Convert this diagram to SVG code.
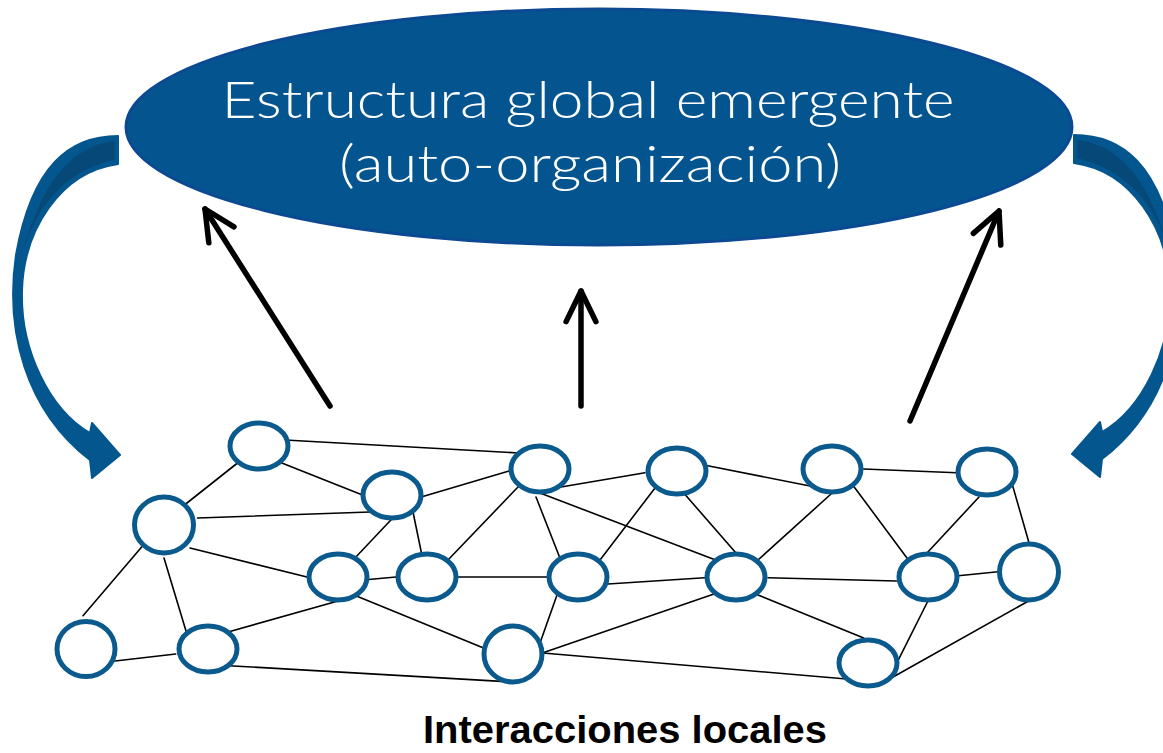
<svg xmlns="http://www.w3.org/2000/svg" xmlns:xlink="http://www.w3.org/1999/xlink" width="1163" height="753" viewBox="0 0 1163 753">
  <style>
    .curl { fill: #03568e; stroke: #03568e; stroke-width: 2; stroke-linejoin: round; }
    .face { fill: #064877; }
    .up { fill: none; stroke: #000; stroke-width: 5.5; stroke-linecap: round; }
    .chev { fill: none; stroke: #000; stroke-width: 5.5; stroke-linecap: round; stroke-linejoin: round; }
    .edge { stroke: #000; stroke-width: 1.6; stroke-linecap: round; }
    .node { fill: #fff; stroke: #0b5a8e; stroke-width: 5; }
    .title { font-family: Lato, "Open Sans", "Liberation Sans", sans-serif; font-weight: 300; font-size: 51px; fill: #fff; }
    .label { font-family: "Liberation Sans", Arial, sans-serif; font-weight: bold; font-size: 38px; fill: #000; }
  </style>
  <defs>
    <marker id="chev" markerUnits="userSpaceOnUse" orient="auto" markerWidth="50" markerHeight="50" refX="40" refY="25" viewBox="0 0 50 50" overflow="visible">
      <path class="chev" d="M 9.4,10.1 L 40,25 L 9.4,39.9"/>
    </marker>
    <g id="curl">
      <path class="curl" d="M 118,136 C 70,136 32,165 16,255 C 5,330 25,410 90,460 L 92,478 L 120,455 L 92,423 L 90,433 C 50,410 20,350 22,290 C 24,230 60,172 118,164 Z"/>
      <path class="face" d="M 115,141 C 80,145 45,170 24,250 C 35,210 62,172 115,159 Z"/>
    </g>
  </defs>

  <g id="feedback-arrows">
    <use xlink:href="#curl" href="#curl"/>
    <use xlink:href="#curl" href="#curl" transform="translate(1192,-1) scale(-1,1)"/>
  </g>

  <g id="global-structure">
    <ellipse cx="599" cy="127" rx="473" ry="118" fill="#04558f" stroke="#0b4a93" stroke-width="3"/>
    <text class="title" x="588" y="118" text-anchor="middle" textLength="733" lengthAdjust="spacingAndGlyphs">Estructura global emergente</text>
    <text class="title" x="590" y="182" text-anchor="middle" textLength="502" lengthAdjust="spacingAndGlyphs">(auto-organización)</text>
  </g>

  <g id="emergence-arrows">
    <line class="up" x1="330" y1="406" x2="205" y2="209" marker-end="url(#chev)"/>
    <line class="up" x1="581" y1="406" x2="581" y2="291" marker-end="url(#chev)"/>
    <line class="up" x1="910" y1="421" x2="999" y2="211" marker-end="url(#chev)"/>
  </g>

  <g id="connectors">
    <line class="edge" x1="285" y1="440" x2="518.6" y2="453"/>
    <line class="edge" x1="237.5" y1="463" x2="185.7" y2="504"/>
    <line class="edge" x1="281.8" y1="463" x2="362.5" y2="495"/>
    <line class="edge" x1="197.5" y1="518" x2="370" y2="512"/>
    <line class="edge" x1="422" y1="496.7" x2="509" y2="471"/>
    <line class="edge" x1="391.8" y1="519" x2="354" y2="559"/>
    <line class="edge" x1="413" y1="512" x2="422" y2="555.7"/>
    <line class="edge" x1="190" y1="548" x2="307" y2="577"/>
    <line class="edge" x1="363" y1="580" x2="396" y2="577"/>
    <line class="edge" x1="518" y1="487" x2="448" y2="560"/>
    <line class="edge" x1="458" y1="577" x2="547" y2="577"/>
    <line class="edge" x1="536" y1="497" x2="561" y2="560.7"/>
    <line class="edge" x1="561" y1="487" x2="645" y2="472.7"/>
    <line class="edge" x1="540" y1="493" x2="715.6" y2="560"/>
    <line class="edge" x1="142.5" y1="546" x2="83" y2="615.7"/>
    <line class="edge" x1="164" y1="558" x2="186" y2="631"/>
    <line class="edge" x1="108.6" y1="661.7" x2="175.7" y2="654"/>
    <line class="edge" x1="229" y1="631.7" x2="338" y2="601"/>
    <line class="edge" x1="354" y1="595" x2="486" y2="649"/>
    <line class="edge" x1="229" y1="665.7" x2="513" y2="682"/>
    <line class="edge" x1="540" y1="643" x2="557" y2="595"/>
    <line class="edge" x1="543" y1="652.7" x2="714" y2="594"/>
    <line class="edge" x1="543" y1="653" x2="846.5" y2="679"/>
    <line class="edge" x1="655" y1="488" x2="600" y2="560"/>
    <line class="edge" x1="684.6" y1="494" x2="736" y2="553"/>
    <line class="edge" x1="707.7" y1="465.7" x2="810" y2="486"/>
    <line class="edge" x1="831" y1="494" x2="758" y2="560"/>
    <line class="edge" x1="863.7" y1="469" x2="956.7" y2="472.7"/>
    <line class="edge" x1="854" y1="486.7" x2="909" y2="560.7"/>
    <line class="edge" x1="979" y1="497" x2="927" y2="553"/>
    <line class="edge" x1="1011.8" y1="482.7" x2="1029" y2="542.7"/>
    <line class="edge" x1="607.8" y1="584" x2="704.6" y2="577.7"/>
    <line class="edge" x1="768" y1="577.7" x2="896.4" y2="581"/>
    <line class="edge" x1="958.4" y1="575.7" x2="998" y2="571.7"/>
    <line class="edge" x1="927.4" y1="602" x2="898" y2="660.7"/>
    <line class="edge" x1="1029" y1="600.7" x2="889.5" y2="679"/>
    <line class="edge" x1="758" y1="595" x2="863.7" y2="638"/>
  </g>

  <g id="node-a"><ellipse class="node" cx="259" cy="446" rx="29" ry="23"/></g>
  <g id="node-b"><ellipse class="node" cx="164" cy="525" rx="29.5" ry="28"/></g>
  <g id="node-c"><ellipse class="node" cx="392" cy="495" rx="29" ry="23"/></g>
  <g id="node-d"><ellipse class="node" cx="540" cy="469" rx="29" ry="23"/></g>
  <g id="node-e"><ellipse class="node" cx="338" cy="577" rx="29" ry="23"/></g>
  <g id="node-f"><ellipse class="node" cx="427" cy="577" rx="29" ry="23"/></g>
  <g id="node-g"><ellipse class="node" cx="578" cy="577" rx="29" ry="23"/></g>
  <g id="node-h"><ellipse class="node" cx="86" cy="649" rx="29" ry="27.5"/></g>
  <g id="node-i"><ellipse class="node" cx="208" cy="649" rx="29" ry="23"/></g>
  <g id="node-j"><ellipse class="node" cx="513" cy="654" rx="29" ry="28"/></g>
  <g id="node-k"><ellipse class="node" cx="677" cy="471" rx="29" ry="23"/></g>
  <g id="node-l"><ellipse class="node" cx="832" cy="469" rx="29" ry="23"/></g>
  <g id="node-m"><ellipse class="node" cx="987" cy="472" rx="29" ry="23"/></g>
  <g id="node-n"><ellipse class="node" cx="736" cy="577" rx="29" ry="23"/></g>
  <g id="node-o"><ellipse class="node" cx="928" cy="577" rx="29" ry="23"/></g>
  <g id="node-p"><ellipse class="node" cx="1029" cy="572" rx="29.5" ry="28"/></g>
  <g id="node-q"><ellipse class="node" cx="868" cy="663" rx="29" ry="23"/></g>

  <g id="caption">
    <text class="label" x="423" y="743" textLength="404" lengthAdjust="spacingAndGlyphs">Interacciones locales</text>
  </g>
</svg>
